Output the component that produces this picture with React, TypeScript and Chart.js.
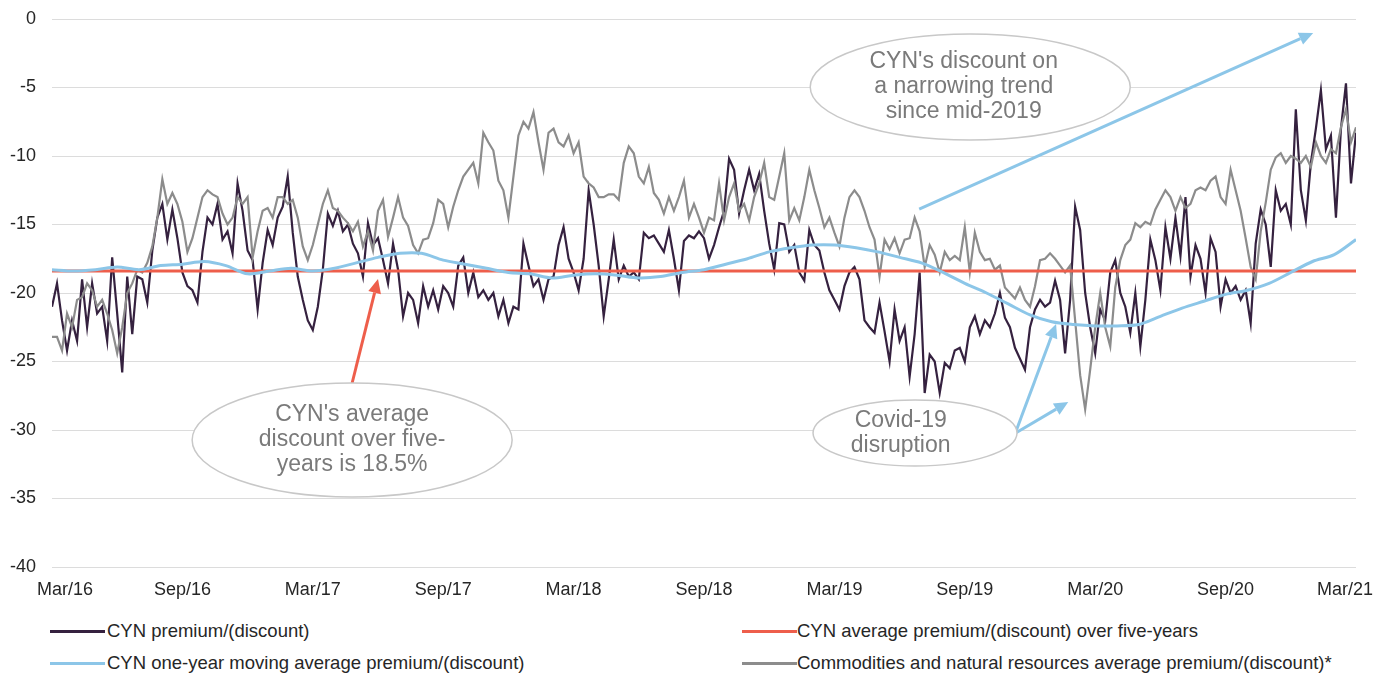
import React, { useEffect, useRef } from "react";
import { Chart, registerables } from "chart.js";

Chart.register(...registerables);

// ---- Data ----
const xTickLabels = ["Mar/16", "Sep/16", "Mar/17", "Sep/17", "Mar/18", "Sep/18", "Mar/19", "Sep/19", "Mar/20", "Sep/20", "Mar/21"];
const totalMonths = 60;
const monthsPerTick = 6;

// Weekly CYN premium/(discount), Mar/16 -> Mar/21
const cynPremium = [
  -21.0, -19.3, -22.0, -24.2, -22.0, -23.5, -19.0, -22.5, -19.3, -21.5,
  -21.0, -23.5, -17.4, -21.5, -25.8, -18.8, -23.0, -18.8, -19.0, -20.7,
  -16.9, -14.5, -13.5, -16.1, -13.9, -16.0, -18.5, -19.5, -19.8, -20.7,
  -17.0, -14.5, -15.0, -13.5, -16.1, -15.5, -17.1, -12.0, -14.0, -16.9,
  -17.6, -21.2, -17.8, -15.4, -16.5, -14.5, -13.7, -11.5, -15.6, -18.8,
  -20.5, -22.0, -22.7, -21.0, -18.3, -14.2, -15.1, -14.0, -15.5, -15.0,
  -16.4, -17.1, -18.8, -14.9, -16.5, -16.0, -17.6, -19.3, -16.4, -18.3,
  -21.7, -20.0, -20.5, -22.2, -19.5, -21.0, -19.8, -21.2, -19.5, -20.0,
  -21.0, -18.0, -17.4, -20.0, -18.5, -20.3, -19.8, -20.5, -20.0, -21.7,
  -20.5, -22.2, -21.0, -21.2, -16.4, -18.0, -19.5, -19.0, -20.5, -19.0,
  -18.8, -16.5, -15.2, -17.5, -18.5, -19.8, -17.5, -12.5, -15.0, -18.0,
  -21.7, -19.0, -16.1, -19.0, -18.0, -18.8, -18.5, -19.0, -15.6, -16.0,
  -15.8, -16.4, -17.0, -15.4, -17.5, -19.8, -16.2, -15.8, -16.0, -15.5,
  -16.0, -17.5, -16.5, -15.2, -14.0, -10.2, -11.0, -14.2, -12.5, -11.0,
  -12.5, -11.3, -14.0, -16.4, -18.3, -14.9, -15.0, -17.0, -16.5, -18.5,
  -19.1, -15.4, -16.5, -16.9, -18.5, -19.8, -20.5, -21.2, -19.5, -18.5,
  -18.1, -19.0, -22.0, -22.5, -22.9, -20.7, -22.8, -25.0, -21.2, -23.5,
  -22.5, -26.1, -23.0, -18.5, -27.3, -24.5, -25.0, -27.3, -25.1, -25.5,
  -24.2, -24.0, -25.0, -22.5, -21.7, -23.0, -22.0, -22.5, -21.5, -20.0,
  -21.8, -22.5, -24.0, -24.8, -25.6, -22.5, -21.2, -20.5, -21.0, -20.7,
  -19.1, -20.5, -24.4, -20.5, -13.7, -15.4, -20.0, -22.5, -24.4, -21.2,
  -22.0, -18.5, -17.6, -20.0, -21.0, -22.9, -20.0, -23.9, -20.5, -16.1,
  -17.6, -19.8, -15.2, -17.5, -14.5, -17.3, -13.0, -18.8, -16.5, -17.5,
  -20.0, -16.0, -17.0, -21.0, -19.0, -20.0, -19.5, -20.5, -19.8, -22.2,
  -16.4, -13.9, -15.0, -18.1, -12.5, -14.0, -13.5, -15.0, -6.6, -12.5,
  -14.7, -10.5, -8.0, -5.2, -9.5, -8.5, -14.5, -8.0, -4.7, -12.0,
  -8.3,
];

// Weekly commodities & natural resources sector average premium/(discount)
const sectorAverage = [
  -23.2, -23.2, -24.2, -21.5, -22.5, -20.5, -20.3, -19.3, -19.8, -21.0,
  -20.5, -21.5, -22.7, -24.4, -22.5, -20.0, -19.3, -18.3, -18.5, -17.8,
  -16.6, -14.5, -11.7, -13.5, -12.7, -13.5, -14.8, -17.0, -16.0, -14.5,
  -13.0, -12.5, -12.8, -13.0, -14.2, -15.0, -14.5, -13.0, -13.5, -13.0,
  -17.4, -15.5, -14.0, -13.8, -14.5, -13.0, -13.0, -13.5, -13.2, -14.5,
  -16.6, -17.6, -16.5, -15.0, -13.5, -12.5, -13.8, -14.0, -14.5, -14.9,
  -15.5, -14.8, -16.6, -15.5, -16.9, -14.0, -13.2, -15.9, -14.5, -13.0,
  -14.5, -15.1, -16.5, -17.1, -16.1, -16.0, -14.9, -13.2, -13.5, -15.2,
  -13.7, -12.5, -11.5, -11.0, -10.5, -12.0, -8.3, -9.0, -9.6, -11.8,
  -12.5, -14.5, -11.5, -8.5, -7.5, -8.0, -6.8, -9.0, -11.0, -8.3,
  -8.0, -9.0, -9.3, -8.5, -9.8, -9.0, -11.5, -12.0, -12.3, -13.0,
  -13.0, -12.8, -12.8, -13.2, -10.5, -9.3, -9.8, -11.5, -12.0, -10.8,
  -12.7, -13.2, -14.2, -13.0, -14.0, -13.0, -11.8, -14.5, -13.5, -14.5,
  -15.6, -14.5, -14.7, -12.0, -14.7, -13.0, -12.0, -14.0, -13.5, -14.7,
  -13.0, -12.0, -10.5, -13.0, -13.2, -11.5, -9.8, -14.7, -13.8, -14.7,
  -13.0, -11.0, -12.5, -13.8, -15.2, -14.5, -15.6, -16.6, -14.5, -13.0,
  -12.5, -13.0, -14.0, -15.2, -16.1, -18.8, -16.1, -16.8, -16.0, -17.1,
  -16.1, -16.0, -14.5, -15.5, -18.1, -16.5, -17.2, -18.5, -17.0, -17.6,
  -17.3, -17.6, -15.2, -18.5, -15.6, -17.0, -17.6, -17.5, -18.3, -18.0,
  -19.6, -20.0, -20.4, -19.6, -20.5, -21.0, -19.5, -17.6, -17.5, -17.1,
  -17.5, -18.0, -18.5, -18.0, -22.0, -26.0, -28.5, -25.6, -22.5, -20.0,
  -22.5, -23.9, -19.6, -17.6, -16.5, -16.1, -14.9, -15.2, -14.8, -15.0,
  -13.9, -13.2, -12.5, -13.0, -14.0, -13.0, -13.8, -13.5, -12.5, -12.3,
  -12.5, -11.8, -11.5, -13.0, -13.5, -11.0, -12.5, -14.0, -16.0, -18.1,
  -19.0, -15.5, -13.4, -11.0, -10.1, -9.8, -10.5, -10.0, -10.2, -10.5,
  -10.0, -10.8, -9.0, -10.0, -10.5, -9.5, -9.8, -7.9, -6.6, -9.0,
  -7.9,
];

// Monthly CYN one-year moving average premium/(discount)
const cynMovingAverage = [
  -18.3, -18.4, -18.3, -18.1, -18.3, -18.0, -17.9, -17.7, -18.0, -18.6,
  -18.4, -18.2, -18.4, -18.2, -17.8, -17.4, -17.1, -17.1, -17.6, -17.9,
  -18.2, -18.5, -18.6, -18.9, -18.7, -18.6, -18.7, -18.9, -18.8, -18.5,
  -18.3, -17.9, -17.5, -17.0, -16.7, -16.5, -16.5, -16.7, -17.0, -17.4,
  -17.8, -18.5, -19.3, -20.0, -20.8, -21.6, -22.1, -22.3, -22.4, -22.4,
  -22.3, -21.7, -21.1, -20.6, -20.1, -19.8, -19.3, -18.5, -17.7, -17.2,
  -16.1,
];

const cynFiveYearAverage = -18.4;

const legendLabels = [
  "CYN premium/(discount)",
  "CYN average premium/(discount) over five-years",
  "CYN one-year moving average premium/(discount)",
  "Commodities and natural resources average premium/(discount)*",
];

// Annotations (positions in data units: months since Mar/16, % premium)
const calloutEllipses = [
  { lines: ["CYN's average", "discount over five-", "years is 18.5%"], x: 13.81, y: -30.73, textX: 13.81, rx: 160, ry: 57 },
  { lines: ["CYN's discount on", "a narrowing trend", "since mid-2019"], x: 42.25, y: -4.96, textX: 41.95, rx: 160, ry: 53 },
  { lines: ["Covid-19", "disruption"], x: 39.71, y: -30.22, textX: 39.05, rx: 102, ry: 33 },
];
const calloutArrows = [
  { from: [13.81, -26.57], to: [15.0, -18.98], color: "#EE5E4B" },
  { from: [39.9, -13.87], to: [58.03, -1.02], color: "#8CC6E8" },
  { from: [44.36, -30.07], to: [46.2, -22.26], color: "#8CC6E8" },
  { from: [44.36, -30.2], to: [46.76, -27.96], color: "#8CC6E8" },
];

const COLORS = {
  cyn: "#35213F",
  avg: "#EE5E4B",
  ma: "#8CC6E8",
  sector: "#8C8C8C",
};

const FONT = "'Liberation Sans', Arial, sans-serif";
const W = 1375;
const H = 675;
const CANVAS_H = 610;
const X_LABEL_MIN = 37;
const X_LABEL_MAX = 1373;

const weeklyPoints = (vals: number[]) =>
  vals.map((v, i) => ({ x: (i * totalMonths) / (vals.length - 1), y: v }));

// Draw x tick labels at the scale's tick positions, kept inside the figure
const xLabelPlugin = {
  id: "xLabels",
  afterDraw(chart: any) {
    const ctx = chart.ctx;
    const xs = chart.scales.x;
    ctx.save();
    ctx.font = `18px ${FONT}`;
    ctx.fillStyle = "#262626";
    ctx.textAlign = "left";
    ctx.textBaseline = "middle";
    const y = chart.chartArea.bottom + 23;
    xs.ticks.forEach((t: any) => {
      const label = xTickLabels[Math.round(t.value / monthsPerTick)];
      if (!label) return;
      const px = xs.getPixelForValue(t.value);
      const w = ctx.measureText(label).width;
      let left = px - w / 2;
      left = Math.max(X_LABEL_MIN, Math.min(left, X_LABEL_MAX - w));
      ctx.fillText(label, left, y);
    });
    ctx.restore();
  },
};

const calloutPlugin = {
  id: "callouts",
  afterDraw(chart: any) {
    const ctx = chart.ctx;
    const xs = chart.scales.x;
    const ys = chart.scales.y;
    ctx.save();
    calloutArrows.forEach((a) => {
      const x1 = xs.getPixelForValue(a.from[0]);
      const y1 = ys.getPixelForValue(a.from[1]);
      const x2 = xs.getPixelForValue(a.to[0]);
      const y2 = ys.getPixelForValue(a.to[1]);
      const ang = Math.atan2(y2 - y1, x2 - x1);
      const headLen = 14;
      const headW = 6.5;
      const bx = x2 - headLen * Math.cos(ang);
      const by = y2 - headLen * Math.sin(ang);
      ctx.strokeStyle = a.color;
      ctx.lineWidth = 3;
      ctx.lineCap = "butt";
      ctx.beginPath();
      ctx.moveTo(x1, y1);
      ctx.lineTo(bx, by);
      ctx.stroke();
      ctx.fillStyle = a.color;
      ctx.beginPath();
      ctx.moveTo(x2, y2);
      ctx.lineTo(bx + headW * Math.sin(ang), by - headW * Math.cos(ang));
      ctx.lineTo(bx - headW * Math.sin(ang), by + headW * Math.cos(ang));
      ctx.closePath();
      ctx.fill();
    });
    calloutEllipses.forEach((e) => {
      const cx = xs.getPixelForValue(e.x);
      const cy = ys.getPixelForValue(e.y);
      const tx = xs.getPixelForValue(e.textX);
      ctx.beginPath();
      ctx.ellipse(cx, cy, e.rx, e.ry, 0, 0, Math.PI * 2);
      ctx.fillStyle = "#ffffff";
      ctx.fill();
      ctx.strokeStyle = "#C8C8C8";
      ctx.lineWidth = 1.5;
      ctx.stroke();
      ctx.fillStyle = "#7A7A7A";
      ctx.font = `23px ${FONT}`;
      ctx.textAlign = "center";
      ctx.textBaseline = "middle";
      const gap = 25;
      e.lines.forEach((ln, k) => {
        ctx.fillText(ln, tx, cy + (k - (e.lines.length - 1) / 2) * gap);
      });
    });
    ctx.restore();
  },
};

export default function App() {
  const canvasRef = useRef<HTMLCanvasElement | null>(null);

  useEffect(() => {
    if (!canvasRef.current) return;
    const chart = new Chart(canvasRef.current, {
      type: "line",
      data: {
        datasets: [
          {
            label: legendLabels[0],
            data: weeklyPoints(cynPremium),
            borderColor: COLORS.cyn,
            borderWidth: 2.2,
            pointRadius: 0,
            tension: 0,
            order: 4,
          },
          {
            label: legendLabels[3],
            data: weeklyPoints(sectorAverage),
            borderColor: COLORS.sector,
            borderWidth: 2.2,
            pointRadius: 0,
            tension: 0,
            order: 3,
          },
          {
            label: legendLabels[1],
            data: [
              { x: 0, y: cynFiveYearAverage },
              { x: totalMonths, y: cynFiveYearAverage },
            ],
            borderColor: COLORS.avg,
            borderWidth: 3,
            pointRadius: 0,
            order: 2,
          },
          {
            label: legendLabels[2],
            data: weeklyPoints(cynMovingAverage),
            borderColor: COLORS.ma,
            borderWidth: 3,
            pointRadius: 0,
            tension: 0.3,
            order: 1,
          },
        ],
      },
      options: {
        animation: false,
        responsive: false,
        layout: { padding: { left: 0, right: 19, top: 19, bottom: 0 } },
        plugins: {
          legend: { display: false },
          tooltip: { enabled: false },
        },
        scales: {
          x: {
            type: "linear",
            min: 0,
            max: totalMonths,
            grid: { display: false, drawTicks: false },
            border: { display: false },
            ticks: {
              stepSize: monthsPerTick,
              autoSkip: false,
              maxRotation: 0,
              display: false,
            },
            afterFit: (s: any) => {
              s.height = CANVAS_H - 567;
              s.paddingLeft = 0;
              s.paddingRight = 0;
            },
          },
          y: {
            min: -40,
            max: 0,
            grid: { color: "#DCDCDC", lineWidth: 1, drawTicks: false },
            border: { display: false },
            ticks: {
              stepSize: 5,
              padding: 16,
              color: "#262626",
              font: { family: FONT, size: 18 },
            },
            afterFit: (s: any) => {
              s.width = 52;
              s.paddingTop = 0;
              s.paddingBottom = 0;
            },
          },
        },
      },
      plugins: [xLabelPlugin, calloutPlugin],
    });
    return () => chart.destroy();
  }, []);

  const legendLine = (color: string) => ({
    position: "absolute" as const,
    width: 55,
    height: 3,
    background: color,
  });
  const textStyle = {
    position: "absolute" as const,
    fontFamily: FONT,
    fontSize: 18.5,
    color: "#262626",
    whiteSpace: "nowrap" as const,
    lineHeight: "20px",
  };

  return (
    <div style={{ position: "relative", width: W, height: H, overflow: "hidden" }}>
      <style>{"html,body{margin:0;padding:0;overflow:hidden;}"}</style>
      <canvas ref={canvasRef} width={W} height={CANVAS_H} style={{ display: "block" }} />
      <div style={{ ...legendLine(COLORS.cyn), left: 50, top: 630 }} />
      <div style={{ ...textStyle, left: 107, top: 621 }}>{legendLabels[0]}</div>
      <div style={{ ...legendLine(COLORS.avg), left: 742, top: 630 }} />
      <div style={{ ...textStyle, left: 797, top: 621 }}>{legendLabels[1]}</div>
      <div style={{ ...legendLine(COLORS.ma), left: 50, top: 662 }} />
      <div style={{ ...textStyle, left: 107, top: 653 }}>{legendLabels[2]}</div>
      <div style={{ ...legendLine(COLORS.sector), left: 742, top: 662 }} />
      <div style={{ ...textStyle, left: 797, top: 653 }}>{legendLabels[3]}</div>
    </div>
  );
}
